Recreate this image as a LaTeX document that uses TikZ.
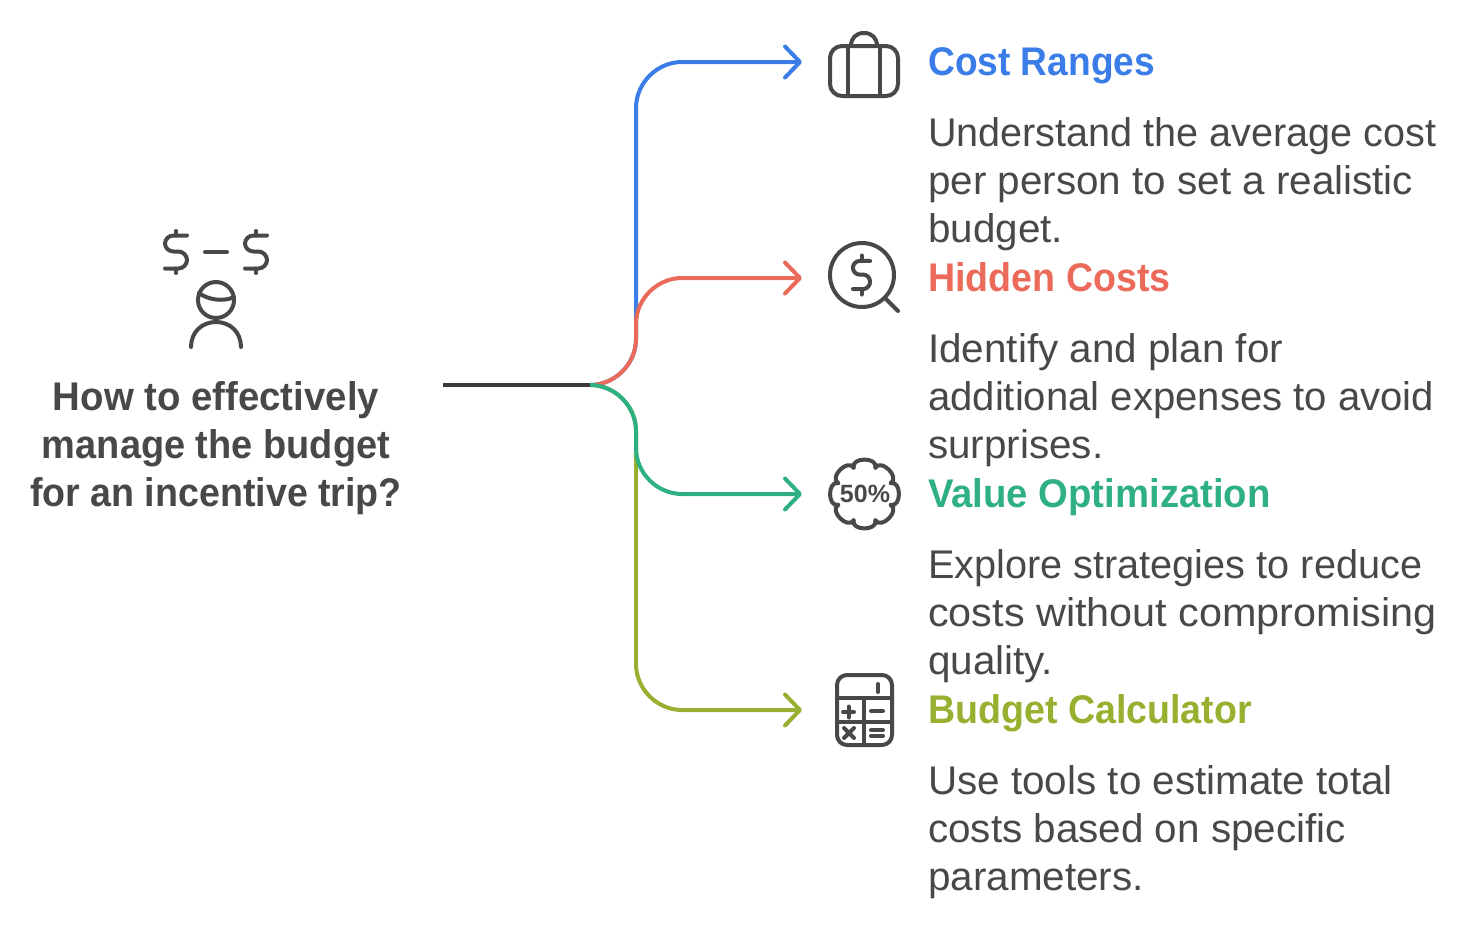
\documentclass[tikz,border=0pt]{standalone}
\usepackage{fontspec}
\usetikzlibrary{arrows.meta}
\setmainfont{Liberation Sans}
\newfontfamily\bodyfont[FakeStretch=1.01]{Liberation Sans}
\newfontfamily\headfont[FakeStretch=0.94,BoldFont={}]{Liberation Sans Bold}
\definecolor{ink}{HTML}{484848}
\definecolor{cblue}{HTML}{3B7DE8}
\definecolor{cred}{HTML}{EB6A5A}
\definecolor{cgreen}{HTML}{2FB083}
\definecolor{colive}{HTML}{97B02F}
\newcommand{\linefit}[2]{\scalebox{#1}[1]{#2}}
\tikzset{
  x=1pt,y=-1pt,
  bodytext/.style={anchor=west,align=left,inner sep=0pt,text=ink,font=\fontsize{40}{48}\selectfont\bodyfont},
  headtext/.style={anchor=base west,inner sep=0pt,font=\fontsize{40}{48}\selectfont\headfont},
  roottext/.style={align=center,inner sep=0pt,text=ink,font=\fontsize{40}{48}\selectfont\headfont},
  conn/.style={line width=4pt,-{Straight Barb[length=15pt,width=31pt,line width=4pt,round]}},
  rootline/.style={line width=4pt,color=ink!80!black},
  icon/.style={line width=4pt,color=ink,line cap=round,line join=round}
}
\newcommand{\dollarsign}[5]{%
  \begin{scope}[shift={(#1,#2)},yscale=#3,xscale=#4]
    \draw[icon] (11,-16.5) -- (-2.5,-16.5) .. controls (-7,-16.5) and (-11,-13) .. (-11,-8.5)
      .. controls (-11,-4) and (-7,-0.5) .. (-2.5,-0.5) -- (2.5,-0.5)
      .. controls (7,-0.5) and (11,3.5) .. (11,8)
      .. controls (11,12.5) and (7,16.5) .. (2.5,16.5) -- (-11,16.5);
    \draw[icon] (0,-#5) -- (0,-16.5) (0,16.5) -- (0,#5);
  \end{scope}}
\begin{document}
\begin{tikzpicture}
\useasboundingbox (0,0) rectangle (1476,926);
% coordinates
\coordinate (start) at (443,385);
\coordinate (hub) at (590,385);
\coordinate (endA) at (802,62);
\coordinate (endB) at (802,278);
\coordinate (endC) at (802,494);
\coordinate (endD) at (802,710);
% connectors
\draw[conn,cblue] (hub) .. controls (615,385) and (636,364) .. (636,339) -- (636,108) .. controls (636,83) and (657,62) .. (682,62) -- (endA);
\draw[conn,colive] (hub) .. controls (615,385) and (636,406) .. (636,431) -- (636,664) .. controls (636,689) and (657,710) .. (682,710) -- (endD);
\draw[conn,cred] (hub) .. controls (615,385) and (636,364) .. (636,339) -- (636,324) .. controls (636,299) and (657,278) .. (682,278) -- (endB);
\draw[conn,cgreen] (hub) .. controls (615,385) and (636,406) .. (636,431) -- (636,448) .. controls (636,473) and (657,494) .. (682,494) -- (endC);
\draw[rootline] (start) -- (hub);
% root
\node[roottext] (root) at (216,448) {\linefit{1.02}{How to effectively}\\\linefit{1.01}{manage the budget}\\for an incentive trip?};
% person icon
\dollarsign{176}{252}{1}{1}{21}
\dollarsign{256}{252}{1}{1}{21}
\draw[icon] (205,252) -- (227,252);
\draw[icon] (216,300) circle[radius=18];
\draw[icon] (199,293) .. controls (208,300) and (224,302) .. (234,297);
\draw[icon] (191,347) .. controls (191,332) and (202,322) .. (216,322) .. controls (230,322) and (241,332) .. (241,347);
% suitcase
\draw[icon,rounded corners=12pt] (830,46) rectangle (898,96);
\draw[icon] (848,46) -- (848,96) (880,46) -- (880,96);
\draw[icon] (851,46) .. controls (851,38) and (856,33) .. (864,33) .. controls (872,33) and (877,38) .. (877,46);
% magnifier
\draw[icon] (862,275) circle[radius=32];
\draw[icon] (885,298) -- (898,311);
\dollarsign{861.5}{275}{0.85}{0.78}{23}
% badge
\begin{scope}[shift={(864.5,494)}]
  \foreach \a in {0,45,...,315}{
    \draw[icon] ({\a-22.5}:28.5) .. controls ({\a-20}:39.5) and ({\a+20}:39.5) .. ({\a+22.5}:28.5);
  }
\end{scope}
\node[inner sep=0pt,text=ink,font=\fontsize{25}{25}\selectfont\bfseries] (pct) at (865,494) {50\%};
% calculator
\draw[icon,rounded corners=10pt] (837,675) rectangle (892,745);
\draw[icon] (837,698) -- (892,698) (837,722) -- (892,722) (864,698) -- (864,745);
\draw[icon] (878,684) -- (878,692);
\draw[icon] (843,712) -- (854,712) (848.5,706.5) -- (848.5,717.5);
\draw[icon] (871,711) -- (883,711);
\draw[icon] (844,728) -- (854,738) (844,738) -- (854,728);
\draw[icon] (871,730) -- (883,730) (871,736) -- (883,736);
% texts
\node[headtext,text=cblue] (titleA) at (928,75) {\linefit{0.987}{Cost Ranges}};
\node[bodytext] (bodyA) at (928,184) {\linefit{0.979}{Understand the average cost}\\per person to set a realistic\\budget.};
\node[headtext,text=cred] (titleB) at (928,291) {Hidden Costs};
\node[bodytext] (bodyB) at (928,400) {Identify and plan for\\\linefit{0.992}{additional expenses to avoid}\\surprises.};
\node[headtext,text=cgreen] (titleC) at (928,507) {\linefit{1.018}{Value Optimization}};
\node[bodytext] (bodyC) at (928,616) {\linefit{0.982}{Explore strategies to reduce}\\\linefit{1.024}{costs without compromising}\\quality.};
\node[headtext,text=colive] (titleD) at (928,723) {Budget Calculator};
\node[bodytext] (bodyD) at (928,832) {Use tools to estimate total\\costs based on specific\\parameters.};
\end{tikzpicture}
\end{document}
